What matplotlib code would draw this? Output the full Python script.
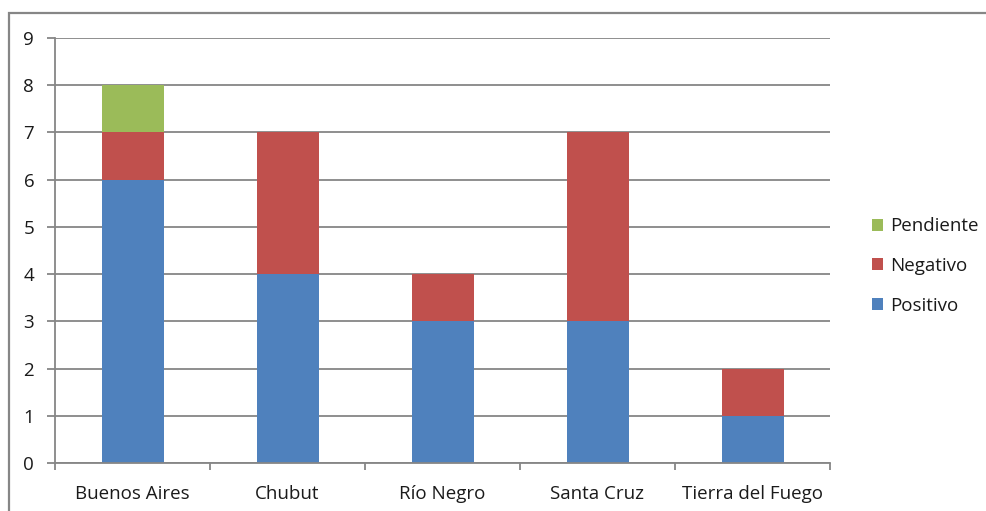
import matplotlib
matplotlib.use("Agg")
import matplotlib.pyplot as plt
from matplotlib.patches import Rectangle
import numpy as np

provincias = ["Buenos Aires", "Chubut", "Río Negro", "Santa Cruz", "Tierra del Fuego"]
positivo = [6, 4, 3, 3, 1]
negativo = [1, 3, 1, 4, 1]
pendiente = [1, 0, 0, 0, 0]

c_pos = "#4F81BD"
c_neg = "#C0504D"
c_pen = "#9BBB59"
grid_c = "#868686"
txt_c = "#1a1a1a"

plt.rcParams["font.family"] = ["Open Sans", "DejaVu Sans"]

W, H = 986, 511
fig = plt.figure(figsize=(W / 100, H / 100), dpi=100)

# chart area frame
fig.patches.append(Rectangle((9 / W, -0.1), 1.2, (H - 13) / H + 0.1, transform=fig.transFigure,
                             fill=False, edgecolor=grid_c, linewidth=1.6))

ax = fig.add_axes([55 / W, (H - 463) / H, (830 - 55) / W, (463 - 38) / H])
x = np.arange(len(provincias))
w = 0.4
ax.bar(x, positivo, w, color=c_pos, label="Positivo", zorder=3)
ax.bar(x, negativo, w, bottom=positivo, color=c_neg, label="Negativo", zorder=3)
bot2 = [p + n for p, n in zip(positivo, negativo)]
ax.bar(x, pendiente, w, bottom=bot2, color=c_pen, label="Pendiente", zorder=3)

ax.set_xlim(-0.5, len(provincias) - 0.5)
ax.set_ylim(0, 9)
ax.set_yticks(range(0, 10))
ax.yaxis.grid(True, color=grid_c, linewidth=1.3, zorder=0)
ax.set_xticks(x)
ax.set_xticklabels(provincias, fontsize=13.5, color=txt_c)
ax.set_xticks(np.arange(-0.5, len(provincias), 1), minor=True)
ax.tick_params(axis="x", which="major", length=0, pad=16)
ax.tick_params(axis="x", which="minor", length=5, color=grid_c, width=1.3)
ax.tick_params(axis="y", length=6, color=grid_c, width=1.3, labelsize=13.5, labelcolor=txt_c, pad=9)
for s in ["top", "right"]:
    ax.spines[s].set_visible(False)
for s in ["left", "bottom"]:
    ax.spines[s].set_color(grid_c)
    ax.spines[s].set_linewidth(1.3)
    ax.spines[s].set_zorder(4)

handles, labels = ax.get_legend_handles_labels()
leg = fig.legend(handles[::-1], labels[::-1], loc="center left", bbox_to_anchor=(855 / W, (H - 266) / H),
                 frameon=False, fontsize=13.5, handlelength=0.6, handleheight=0.6,
                 handletextpad=0.4, labelspacing=1.15)
for t in leg.get_texts():
    t.set_color(txt_c)

fig.savefig("out.png", dpi=100)
